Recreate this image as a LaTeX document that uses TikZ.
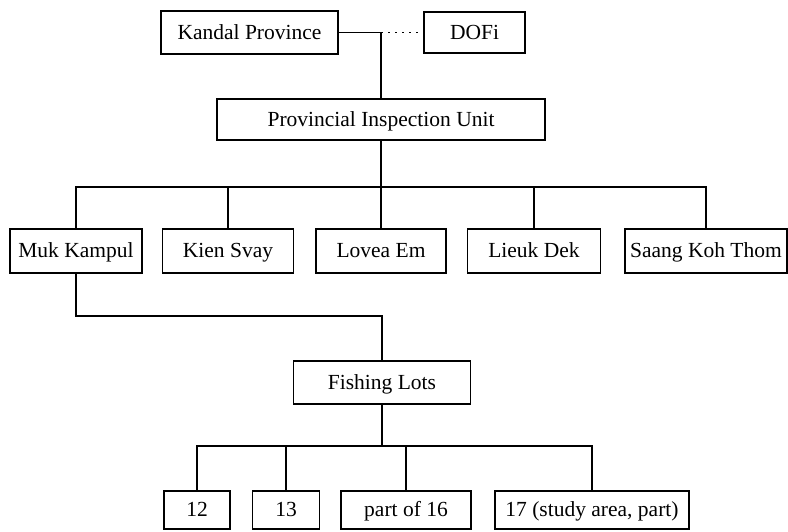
\documentclass[tikz,border=0pt]{standalone}
\usepackage{fontspec}
\setmainfont{Liberation Serif}
\begin{document}
\begin{tikzpicture}[x=1pt,y=-1pt,
  box/.style={draw, line width=1.3pt, inner sep=0pt, text height=16pt, text depth=3pt, font=\fontsize{21.5}{25}\selectfont},
  conn/.style={line width=1.6pt},
  dotconn/.style={line width=1.3pt, dash pattern=on 2pt off 5pt}]
\useasboundingbox (0,0) rectangle (788,531);
% top row
\node[box, minimum width=177pt, minimum height=43pt] (kp) at (249.5,32.5) {Kandal Province};
\node[box, minimum width=101pt, minimum height=41pt] (dofi) at (474.5,32.5) {DOFi};
\node[box, minimum width=328pt, minimum height=41pt] (piu) at (381,119.5) {Provincial Inspection Unit};
% districts
\node[box, minimum width=132pt, minimum height=44pt] (muk) at (76,251) {Muk Kampul};
\node[box, minimum width=131pt, minimum height=44pt] (kien) at (228,251) {Kien Svay};
\node[box, minimum width=130pt, minimum height=44pt] (lovea) at (381,251) {Lovea Em};
\node[box, minimum width=133pt, minimum height=44pt] (lieuk) at (534,251) {Lieuk Dek};
\node[box, minimum width=162pt, minimum height=44pt] (saang) at (706,251) {Saang Koh Thom};
% fishing lots
\node[box, minimum width=177pt, minimum height=43pt] (fish) at (382,382.5) {Fishing Lots};
\node[box, minimum width=66pt, minimum height=38pt] (b12) at (197,510) {12};
\node[box, minimum width=67pt, minimum height=38pt] (b13) at (286,510) {13};
\node[box, minimum width=130pt, minimum height=38pt] (b16) at (406,510) {part of 16};
\node[box, minimum width=194pt, minimum height=38pt] (b17) at (592,510) {17 (study area, part)};
% junctions
\coordinate (j1) at (381,32.5);
\coordinate (h1) at (381,187);
\coordinate (h2) at (382,316);
\coordinate (h3) at (382,446);
% connectors
\draw[conn] (kp.east) -- (j1) -- (piu.north);
\draw[dotconn] (j1) -- (dofi.west);
\draw[conn] (piu.south) -- (lovea.north);
\draw[conn] (muk.north) |- (h1) -| (saang.north);
\draw[conn] (kien.north) -- (kien.north |- h1);
\draw[conn] (lieuk.north) -- (lieuk.north |- h1);
\draw[conn] (muk.south) |- (h2) -- (fish.north);
\draw[conn] (fish.south) -- (h3);
\draw[conn] (b12.north) |- (h3) -| (b17.north);
\draw[conn] (b13.north) -- (b13.north |- h3);
\draw[conn] (b16.north) -- (b16.north |- h3);
\end{tikzpicture}
\end{document}
